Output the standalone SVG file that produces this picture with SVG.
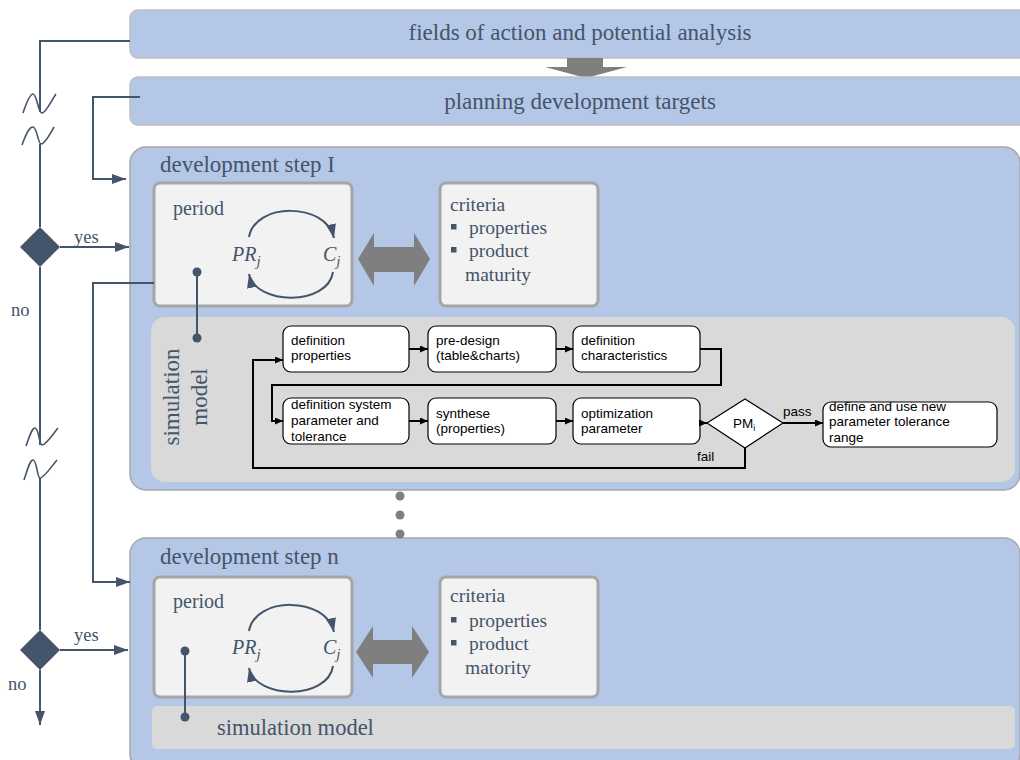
<svg xmlns="http://www.w3.org/2000/svg" width="1020" height="760" viewBox="0 0 1020 760">
<style>
.band{fill:#B4C7E7;stroke:#BFBFBF;stroke-width:1.5}
.step{fill:#B4C7E7;stroke:#A6A6A6;stroke-width:1.5}
.inner{fill:#F2F2F2;stroke:#A6A6A6;stroke-width:3}
.sim{fill:#D9D9D9}
.fbox{fill:#FFFFFF;stroke:#000000;stroke-width:1.2}
.serif{font-family:"Liberation Serif","Times New Roman",serif;fill:#44546A}
.math{font-family:"Liberation Serif","Times New Roman",serif;font-style:italic;fill:#44546A;font-size:20px}
.sans{font-family:"Liberation Sans",Arial,sans-serif;font-size:13.5px;fill:#000000}
.conn{fill:none;stroke:#44546A;stroke-width:2}
.wave{fill:none;stroke:#44546A;stroke-width:1.6}
.flow{fill:none;stroke:#000000;stroke-width:2}
.gray{fill:#7F7F7F}
.slate{fill:#44546A}
</style>
<defs>
<marker id="aS" markerUnits="userSpaceOnUse" markerWidth="14" markerHeight="10" refX="14" refY="5" orient="auto"><path d="M0,0 L14,5 L0,10 Z" fill="#44546A"/></marker>
<marker id="aB" markerUnits="userSpaceOnUse" markerWidth="8" markerHeight="7" refX="8" refY="3.5" orient="auto"><path d="M0,0 L8,3.5 L0,7 Z" fill="#000000"/></marker>
</defs>

<g id="fields">
<rect class="band" x="130" y="10" width="900" height="48" rx="8"/>
<text class="serif" x="580" y="40" font-size="23" text-anchor="middle">fields of action and potential analysis</text>
</g>
<g id="down-arrow">
<polygon class="gray" points="567,58 603,58 603,67 627,67 586,78 545,67 567,67"/>
</g>
<g id="planning">
<rect class="band" x="130" y="77" width="900" height="48" rx="8"/>
<text class="serif" x="580" y="109" font-size="23" text-anchor="middle">planning development targets</text>
</g>

<g id="step1">
<rect class="step" x="130" y="147" width="890" height="343" rx="16"/>
<text class="serif" x="160" y="172" font-size="23">development step I</text>
</g>
<g id="period1">
<rect class="inner" x="154" y="183" width="198" height="123" rx="6"/>
<text class="serif" x="173" y="215" font-size="20">period</text>
<text class="math" x="232" y="261">PR<tspan font-size="15" dy="5">j</tspan></text>
<text class="math" x="323" y="261">C<tspan font-size="15" dy="5">j</tspan></text>
<path class="conn" d="M249,237 C255,202 326,202 334,238" marker-end="url(#aS)"/>
<path class="conn" d="M333,272 C328,306 256,306 249,274" marker-end="url(#aS)"/>
</g>
<g id="dbl1">
<polygon class="gray" points="358,259 374,233 374,247 414,247 414,233 430,259 414,286 414,272 374,272 374,286"/>
</g>
<g id="criteria1">
<rect class="inner" x="440" y="183" width="158" height="123" rx="6"/>
<text class="serif" x="450" y="211" font-size="19.5">criteria</text>
<rect class="slate" x="451" y="224" width="5.5" height="5.5"/>
<text class="serif" x="469" y="234" font-size="19.5">properties</text>
<rect class="slate" x="451" y="247" width="5.5" height="5.5"/>
<text class="serif" x="469" y="257" font-size="19.5">product</text>
<text class="serif" x="465" y="281" font-size="19.5">maturity</text>
</g>
<g id="sim1">
<rect class="sim" x="151" y="317" width="864" height="165" rx="14"/>
<text class="serif" font-size="23" text-anchor="middle" transform="translate(179,397) rotate(-90)">simulation</text>
<text class="serif" font-size="23" text-anchor="middle" transform="translate(207,397) rotate(-90)">model</text>
</g>

<g id="flow-boxes">
<g id="f1"><rect class="fbox" x="283" y="326" width="126" height="46" rx="8"/><text class="sans" x="291" y="345">definition</text><text class="sans" x="291" y="360">properties</text></g>
<g id="f2"><rect class="fbox" x="428" y="326" width="128" height="46" rx="8"/><text class="sans" x="436" y="345">pre-design</text><text class="sans" x="436" y="360">(table&amp;charts)</text></g>
<g id="f3"><rect class="fbox" x="573" y="326" width="127" height="46" rx="8"/><text class="sans" x="581" y="345">definition</text><text class="sans" x="581" y="360">characteristics</text></g>
<g id="f4"><rect class="fbox" x="283" y="398" width="126" height="46" rx="8"/><text class="sans" x="291" y="409">definition system</text><text class="sans" x="291" y="425">parameter and</text><text class="sans" x="291" y="441">tolerance</text></g>
<g id="f5"><rect class="fbox" x="428" y="398" width="128" height="46" rx="8"/><text class="sans" x="436" y="418">synthese</text><text class="sans" x="436" y="433">(properties)</text></g>
<g id="f6"><rect class="fbox" x="573" y="398" width="127" height="46" rx="8"/><text class="sans" x="581" y="418">optimization</text><text class="sans" x="581" y="433">parameter</text></g>
<g id="pm"><polygon class="fbox" points="745,399 783,423 745,448 707,423"/><text class="sans" x="733" y="428">PM<tspan font-size="9" dy="3">i</tspan></text></g>
<g id="f7"><rect class="fbox" x="823" y="402" width="174" height="45" rx="8"/><text class="sans" x="829" y="411">define and use new</text><text class="sans" x="829" y="426">parameter tolerance</text><text class="sans" x="829" y="442">range</text></g>
</g>

<g id="step-n">
<rect class="step" x="130" y="538" width="890" height="232" rx="16"/>
<text class="serif" x="160" y="564" font-size="23">development step n</text>
</g>
<g id="period-n">
<rect class="inner" x="154" y="577" width="198" height="120" rx="6"/>
<text class="serif" x="173" y="608" font-size="20">period</text>
<text class="math" x="232" y="654">PR<tspan font-size="15" dy="5">j</tspan></text>
<text class="math" x="323" y="654">C<tspan font-size="15" dy="5">j</tspan></text>
<path class="conn" d="M249,631 C255,596 326,596 334,632" marker-end="url(#aS)"/>
<path class="conn" d="M333,666 C328,700 256,700 249,668" marker-end="url(#aS)"/>
</g>
<g id="dbl-n">
<polygon class="gray" points="356,652 373,626 373,640 412,640 412,626 429,652 412,678 412,664 373,664 373,678"/>
</g>
<g id="criteria-n">
<rect class="inner" x="440" y="577" width="158" height="120" rx="6"/>
<text class="serif" x="450" y="602" font-size="19.5">criteria</text>
<rect class="slate" x="451" y="617" width="5.5" height="5.5"/>
<text class="serif" x="469" y="627" font-size="19.5">properties</text>
<rect class="slate" x="451" y="640" width="5.5" height="5.5"/>
<text class="serif" x="469" y="650" font-size="19.5">product</text>
<text class="serif" x="465" y="674" font-size="19.5">matority</text>
</g>
<g id="sim-n">
<rect class="sim" x="152" y="706" width="863" height="43" rx="5"/>
<text class="serif" x="217" y="735" font-size="22.5">simulation model</text>
</g>

<g id="decision1"><polygon class="slate" points="40,227 60,247 40,267 20,247"/></g>
<g id="decision-n"><polygon class="slate" points="40,630 60,650 40,670 20,650"/></g>

<g id="connectors">
<path class="conn" d="M130,41 H40 V112"/>
<path class="wave" d="M23,113 C27,101 30,94 33,94 C37,94 38,113 42,113 C46,113 51,101 56,94"/>
<path class="wave" d="M22,145 C26,134 29,127 33,127 C37,127 38,144 41,144 C45,144 50,134 54,127"/>
<path class="conn" d="M40,144 V227"/>
<path class="conn" d="M60,247 H129" marker-end="url(#aS)"/>
<path class="conn" d="M40,267 V445"/>
<path class="wave" d="M26,446 C30,435 32,428 35,428 C39,428 39,445 42,445 C46,445 53,434 58,428"/>
<path class="wave" d="M24,480 C28,468 30,460 33,460 C37,460 37,478 40,478 C44,478 51,467 57,460"/>
<path class="conn" d="M40,478 V630"/>
<path class="conn" d="M60,650 H128" marker-end="url(#aS)"/>
<path class="conn" d="M40,670 V725" marker-end="url(#aS)"/>
<path class="conn" d="M140,97 H93 V179 H126" marker-end="url(#aS)"/>
<path class="conn" d="M154,283 H93 V582 H130" marker-end="url(#aS)"/>
<path class="conn" d="M197,272 V338" stroke-width="2.5"/>
<circle class="slate" cx="197" cy="272" r="4.5"/>
<circle class="slate" cx="197" cy="338" r="4.5"/>
<path class="conn" d="M185,651 V717" stroke-width="2.5"/>
<circle class="slate" cx="185" cy="651" r="4.5"/>
<circle class="slate" cx="185" cy="717" r="4.5"/>
<circle class="gray" cx="400" cy="496" r="4.5"/>
<circle class="gray" cx="400" cy="515" r="4.5"/>
<circle class="gray" cx="400" cy="534" r="4.5"/>
<path class="flow" d="M409,349 H428" marker-end="url(#aB)"/>
<path class="flow" d="M556,349 H573" marker-end="url(#aB)"/>
<path class="flow" d="M700,349 H721 V385 H272 V421 H283" marker-end="url(#aB)"/>
<path class="flow" d="M409,421 H428" marker-end="url(#aB)"/>
<path class="flow" d="M556,421 H573" marker-end="url(#aB)"/>
<path class="flow" d="M700,423 H707" marker-end="url(#aB)"/>
<path class="flow" d="M783,423 H823" marker-end="url(#aB)"/>
<path class="flow" d="M745,448 V468 H253 V360 H283" marker-end="url(#aB)"/>
</g>
<g id="labels">
<text class="serif" x="74" y="243" font-size="18.5">yes</text>
<text class="serif" x="11" y="316" font-size="18.5">no</text>
<text class="serif" x="74" y="641" font-size="18.5">yes</text>
<text class="serif" x="8" y="690" font-size="18.5">no</text>
<text class="sans" x="783" y="416" font-size="12">pass</text>
<text class="sans" x="697" y="461" font-size="12">fail</text>
</g>
</svg>
